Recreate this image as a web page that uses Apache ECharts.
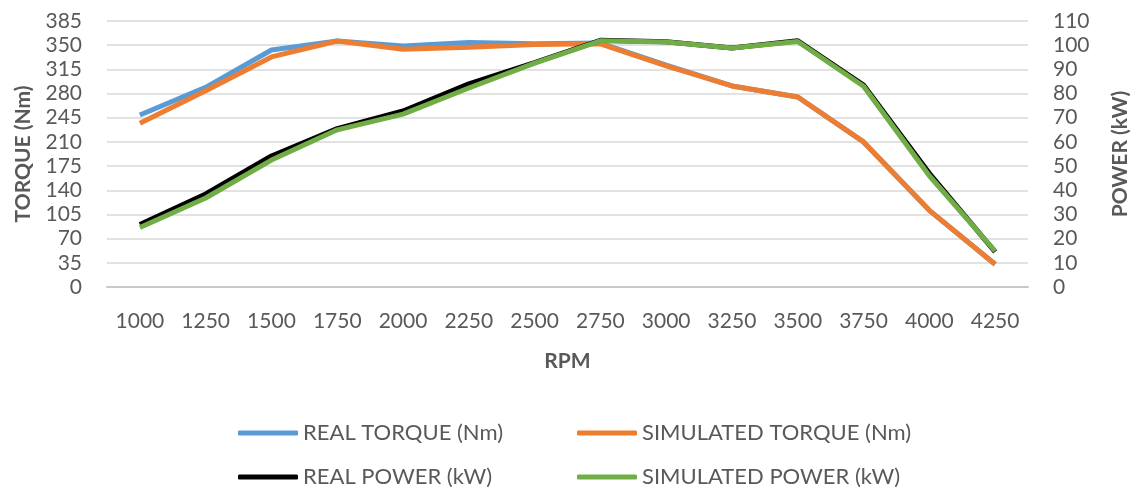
<!DOCTYPE html>
<html><head><meta charset="utf-8">
<script src="https://cdn.jsdelivr.net/npm/echarts@6/dist/echarts.min.js"></script>
<style>html,body{margin:0;padding:0;background:#fff}#c{width:1139px;height:491px}</style>
</head><body><div id="c"></div>
<script>
var categories = ['1000','1250','1500','1750','2000','2250','2500','2750','3000','3250','3500','3750','4000','4250'];
var realTorque = [249, 289, 343, 356, 349, 354, 352, 353, 321, 291, 275, 210, 111, 33];
var simTorque  = [237, 284, 333, 356, 344, 347, 351, 352, 320, 291, 275, 210, 111, 33];
var realPower  = [25.8, 38.5, 54.2, 65.5, 72.8, 84.0, 92.8, 102.0, 101.4, 98.8, 101.8, 83.5, 47.0, 14.5];
var simPower   = [24.6, 36.8, 52.5, 65.0, 71.5, 82.3, 92.6, 101.8, 101.3, 98.8, 101.5, 83.0, 46.0, 14.8];
var torqueTicks = {min: 0, max: 385, interval: 35};
var powerTicks = {min: 0, max: 110, interval: 10};
var names = ['REAL TORQUE (Nm)','SIMULATED TORQUE (Nm)','REAL POWER (kW)','SIMULATED POWER (kW)'];

var FONT = 'Lato, "Open Sans", sans-serif';
var GRAY = '#595959';
var chart = echarts.init(document.getElementById('c'));
function leg(name, left, top){
  return {data:[name], left:left, top:top, itemWidth:60, itemHeight:5, itemGap:0, padding:0,
    icon:'roundRect', textStyle:{fontFamily:FONT, fontSize:22, color:GRAY}};
}
chart.setOption({
  animation:false,
  textStyle:{fontFamily:FONT},
  grid:{left:107, right:101, top:21, bottom:204},
  legend:[leg(names[0],238,422), leg(names[1],577,422), leg(names[2],238,466), leg(names[3],577,466)],
  xAxis:{type:'category', data:categories, boundaryGap:true,
    name:'RPM', nameLocation:'middle', nameGap:64,
    nameTextStyle:{fontFamily:FONT, fontSize:21, fontWeight:'bold', color:GRAY},
    axisLine:{lineStyle:{color:'#c8c8c8', width:2}}, axisTick:{show:false},
    axisLabel:{color:GRAY, fontSize:21, margin:24, fontFamily:FONT}},
  yAxis:[
    {type:'value', min:torqueTicks.min, max:torqueTicks.max, interval:torqueTicks.interval,
     name:'TORQUE (Nm)', nameLocation:'middle', nameGap:73, nameRotate:90,
     nameTextStyle:{fontFamily:FONT, fontSize:21, fontWeight:'bold', color:GRAY},
     axisLabel:{color:GRAY, fontSize:21, margin:25, fontFamily:FONT},
     axisLine:{show:false}, axisTick:{show:false},
     splitLine:{lineStyle:{color:'#d9d9d9', width:1.5}}},
    {type:'value', min:powerTicks.min, max:powerTicks.max, interval:powerTicks.interval,
     name:'POWER (kW)', nameLocation:'middle', nameGap:82, nameRotate:90,
     nameTextStyle:{fontFamily:FONT, fontSize:21, fontWeight:'bold', color:GRAY},
     axisLabel:{color:GRAY, fontSize:21, margin:25, fontFamily:FONT},
     axisLine:{show:false}, axisTick:{show:false}, splitLine:{show:false}}
  ],
  series:[
    {name:names[0], type:'line', yAxisIndex:0, data:realTorque, symbol:'none', color:'#5B9BD5', lineStyle:{width:5, color:'#5B9BD5'}},
    {name:names[1], type:'line', yAxisIndex:0, data:simTorque, symbol:'none', color:'#ED7D31', lineStyle:{width:5, color:'#ED7D31'}},
    {name:names[2], type:'line', yAxisIndex:1, data:realPower, symbol:'none', color:'#000000', lineStyle:{width:5, color:'#000000'}},
    {name:names[3], type:'line', yAxisIndex:1, data:simPower, symbol:'none', color:'#70AD47', lineStyle:{width:5, color:'#70AD47'}}
  ]
});
</script></body></html>
